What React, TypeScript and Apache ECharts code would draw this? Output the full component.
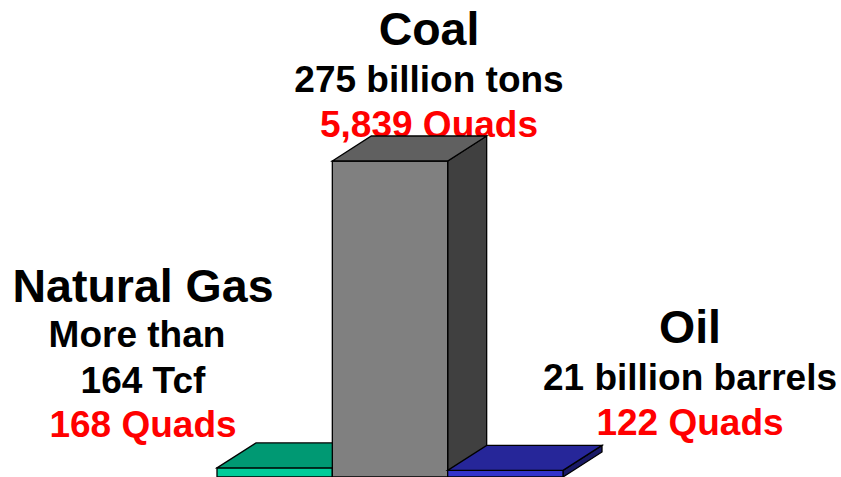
import React, { useEffect, useRef } from "react";
import * as echarts from "echarts";

const categories = ["Natural Gas", "Coal", "Oil"];
const quads = [168, 5839, 122];
const frontColors = ["#00CC99", "#808080", "#3333CC"];
const topColors = ["#009973", "#606060", "#262699"];
const sideColors = ["#006b50", "#404040", "#1a1a66"];

const headings = ["Natural Gas", "Coal", "Oil"];
const subLines = [["More than", "164 Tcf"], ["275 billion tons"], ["21 billion barrels"]];
const quadLabels = ["168 Quads", "5,839 Quads", "122 Quads"];

// label layout (positions only)
const labelX = [143, 429, 690];
const headingY = [285.9, 28.9, 326.9];
const subY = [[334.2, 380.2], [79.2], [377.2]];
const quadY = [424.2, 124.2, 422.2];
const subDx = [[-6, 0], [0], [0]];

export default function App() {
  const ref = useRef<HTMLDivElement>(null);
  useEffect(() => {
    if (!ref.current) return;
    const chart = echarts.init(ref.current, null, { renderer: "svg" });
    const DX = 39;
    const DY = -25;
    const graphics: any[] = [];
    const font = "Liberation Sans, Arial, sans-serif";
    headings.forEach((h, i) => {
      graphics.push({
        type: "text",
        x: labelX[i],
        y: headingY[i],
        style: { text: h, fill: "#000", font: `bold 46.5px ${font}`, align: "center", verticalAlign: "middle" },
      });
      subLines[i].forEach((s, j) => {
        graphics.push({
          type: "text",
          x: labelX[i] + subDx[i][j],
          y: subY[i][j],
          style: { text: s, fill: "#000", font: `bold 37px ${font}`, align: "center", verticalAlign: "middle" },
        });
      });
      graphics.push({
        type: "text",
        x: labelX[i],
        y: quadY[i],
        style: { text: quadLabels[i], fill: "#FF0000", font: `bold 37px ${font}`, align: "center", verticalAlign: "middle" },
      });
    });
    chart.setOption({
      animation: false,
      backgroundColor: "#ffffff",
      grid: { left: 217, width: 346, top: 161, height: 318 },
      xAxis: { type: "category", data: categories, show: false, boundaryGap: true },
      yAxis: { type: "value", min: 0, max: "dataMax", show: false },
      series: [
        {
          type: "custom",
          data: quads.map((v, i) => [i, v]),
          clip: false,
          renderItem: (params: any, api: any) => {
            const idx = api.value(0);
            const val = api.value(1);
            const top = api.coord([idx, val]);
            const base = api.coord([idx, 0]);
            const bw = api.size([1, 0])[0];
            const x0 = top[0] - bw / 2;
            const x1 = top[0] + bw / 2;
            const yt = top[1];
            const yb = base[1];
            const stroke = { stroke: "#000", lineWidth: 1.3 };
            return {
              type: "group",
              children: [
                {
                  type: "polygon",
                  shape: { points: [[x1, yt], [x1 + DX, yt + DY], [x1 + DX, yb + DY], [x1, yb]] },
                  style: { fill: sideColors[idx], ...stroke },
                },
                {
                  type: "polygon",
                  shape: { points: [[x0, yt], [x1, yt], [x1, yb], [x0, yb]] },
                  style: { fill: frontColors[idx], ...stroke },
                },
                {
                  type: "polygon",
                  shape: { points: [[x0, yt], [x0 + DX, yt + DY], [x1 + DX, yt + DY], [x1, yt]] },
                  style: { fill: topColors[idx], ...stroke },
                },
              ],
            };
          },
        },
      ],
      graphic: graphics,
    });
    return () => chart.dispose();
  }, []);
  return <div ref={ref} style={{ position: "fixed", left: 0, top: 0, width: 841, height: 477 }} />;
}
